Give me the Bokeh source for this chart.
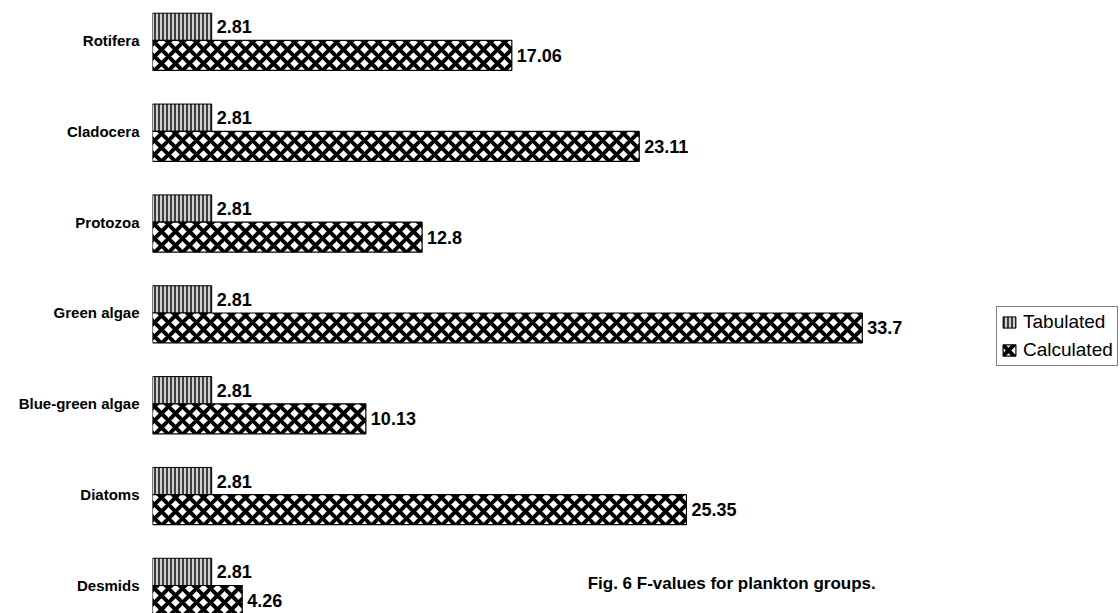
from bokeh.plotting import figure
from bokeh.models import (Range1d, FixedTicker, Label, Legend, LegendItem,
                          ColumnDataSource)
from bokeh.core.properties import value
from bokeh.embed import file_html
from bokeh.resources import INLINE

# F-values per plankton group
groups = ["Rotifera", "Cladocera", "Protozoa", "Green algae",
          "Blue-green algae", "Diatoms", "Desmids"]
tabulated = [2.81, 2.81, 2.81, 2.81, 2.81, 2.81, 2.81]
calculated = [17.06, 23.11, 12.8, 33.7, 10.13, 25.35, 4.26]

FONT = value("Liberation Sans")

idx = list(range(len(groups)))
src = ColumnDataSource(dict(
    pos=idx,
    y_tab=[i - 0.15 for i in idx],
    y_calc=[i + 0.165 for i in idx],
    tab=tabulated,
    calc=calculated,
    tab_lbl=[str(v) for v in tabulated],
    calc_lbl=[str(v) for v in calculated],
))

p = figure(width=1120, height=613, output_backend="svg", toolbar_location=None,
           x_range=Range1d(0, 45.96), y_range=Range1d(6.308, -0.44),
           x_axis_location=None, y_axis_location="left",
           min_border_left=152, min_border_right=0,
           min_border_top=0, min_border_bottom=0)
p.outline_line_color = None
p.grid.visible = False
p.background_fill_color = "white"
p.border_fill_color = "white"

ax = p.yaxis[0]
ax.ticker = FixedTicker(ticks=idx)
ax.major_label_overrides = {i: g for i, g in zip(idx, groups)}
ax.axis_line_color = None
ax.major_tick_line_color = None
ax.minor_tick_line_color = None
ax.major_label_text_font = "Liberation Sans"
ax.major_label_text_font_style = "bold"
ax.major_label_text_font_size = "15px"
ax.major_label_text_color = "black"
ax.major_label_standoff = 7

r_tab = p.hbar(y="y_tab", left=0, right="tab", height=0.30, source=src,
               fill_color="#cfcfcf", line_color="black", line_width=1,
               hatch_pattern="vertical_line", hatch_color="black",
               hatch_scale=4, hatch_weight=1.4)
r_calc = p.hbar(y="y_calc", left=0, right="calc", height=0.33, source=src,
                fill_color="white", line_color="black", line_width=1.2,
                hatch_pattern="diagonal_cross", hatch_color="black",
                hatch_scale=14, hatch_weight=4)

p.text(x="tab", y="y_tab", text="tab_lbl", source=src, x_offset=5,
       text_baseline="middle", text_align="left", text_font=FONT,
       text_font_style="bold", text_font_size="18px", text_color="black")
p.text(x="calc", y="y_calc", text="calc_lbl", source=src, x_offset=5,
       text_baseline="middle", text_align="left", text_font=FONT,
       text_font_style="bold", text_font_size="18px", text_color="black")

legend = Legend(items=[LegendItem(label="Tabulated", renderers=[r_tab]),
                       LegendItem(label="Calculated", renderers=[r_calc])],
                location=(844, 247), orientation="vertical",
                label_text_font="Liberation Sans", label_text_font_size="19px",
                label_text_color="black", glyph_width=16, glyph_height=14,
                label_standoff=6, padding=4, spacing=6, margin=0,
                border_line_color="black", border_line_width=1,
                background_fill_color="white", background_fill_alpha=1)
p.add_layout(legend)

caption = Label(x=20.66, y=5.978, text="Fig. 6 F-values for plankton groups.",
                text_font="Liberation Sans", text_font_style="bold",
                text_font_size="17px", text_color="black",
                text_baseline="alphabetic", text_align="left")
p.add_layout(caption)

open("out.html", "w").write(file_html(p, INLINE))
